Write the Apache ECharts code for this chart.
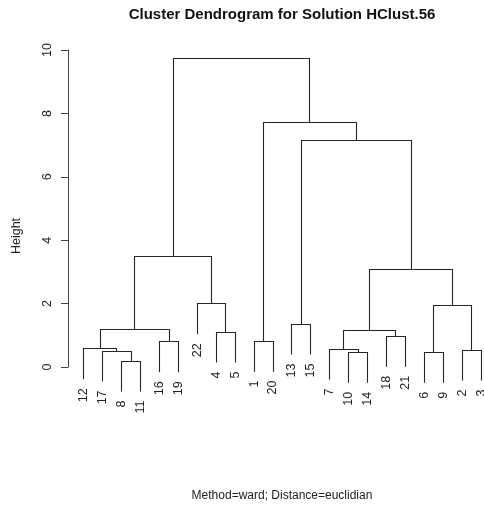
<!DOCTYPE html>
<html>
<head>
<meta charset="utf-8">
<script src="https://cdn.jsdelivr.net/npm/echarts@6/dist/echarts.min.js"></script>
<style>html,body{margin:0;padding:0;background:#fff}#c{width:484px;height:508px}</style>
</head>
<body>
<div id="c"></div>
<script>
// Leaf labels in plotting order
const leafOrder = ['12','17','8','11','16','19','22','4','5','1','20','13','15','7','10','14','18','21','6','9','2','3'];
// Merges: '#k' refers to merge k (1-based), otherwise a leaf label
const mergeLeft  = ['8','10','6','2','17','12','7','16','1','18','4','#6','#7','13','#3','22','#13','#12','#14','#9','#18'];
const mergeRight = ['11','14','9','3','#1','#5','#2','19','20','21','5','#8','#10','15','#4','#11','#15','#16','#17','#19','#20'];
const mergeHeight = [0.18,0.46,0.46,0.53,0.50,0.57,0.56,0.79,0.81,0.96,1.10,1.18,1.16,1.35,1.95,1.99,3.08,3.50,7.15,7.72,9.74];
const yTicks = [0,2,4,6,8,10];

const hang = 0.1 * (Math.max(...mergeHeight) - Math.min(...mergeHeight));
const nLeaf = leafOrder.length;
const xPad = 0.04 * (nLeaf - 1);

const mergeX = [];
function nodeX(ref) {
  if (ref[0] === '#') return mergeX[parseInt(ref.slice(1)) - 1];
  return leafOrder.indexOf(ref) + 1;
}
function nodeY(ref, parentH) {
  if (ref[0] === '#') return mergeHeight[parseInt(ref.slice(1)) - 1];
  return parentH - hang;
}
mergeHeight.forEach((h, i) => {
  mergeX.push((nodeX(mergeLeft[i]) + nodeX(mergeRight[i])) / 2);
});
const leafBottom = {};
mergeHeight.forEach((h, i) => {
  [mergeLeft[i], mergeRight[i]].forEach(r => { if (r[0] !== '#') leafBottom[r] = h - hang; });
});

const lineColor = '#262626';
const font = '"Liberation Sans", Arial, sans-serif';
const snap = v => Math.round(v - 0.5) + 0.5;

const chart = echarts.init(document.getElementById('c'), null, {renderer: 'canvas'});
chart.setOption({
  animation: false,
  backgroundColor: '#fff',
  grid: {left: 68, top: 50, width: 429, height: 317, containLabel: false, outerBoundsMode: 'none'},
  xAxis: {type: 'value', min: 1 - xPad, max: nLeaf + xPad, show: false},
  yAxis: {
    type: 'value', min: yTicks[0], max: yTicks[yTicks.length - 1], interval: 2,
    axisLine: {show: true, lineStyle: {color: '#444', width: 1}},
    axisTick: {show: true, length: 7, lineStyle: {color: '#444'}},
    axisLabel: {rotate: 90, margin: 14, fontSize: 12.5, color: '#222', fontFamily: font},
    splitLine: {show: false}
  },
  graphic: [
    {type: 'text', x: 282, y: 15, style: {text: 'Cluster Dendrogram for Solution HClust.56', font: 'bold 15px ' + font, fill: '#111', align: 'center', verticalAlign: 'middle'}},
    {type: 'text', x: 282, y: 496, style: {text: 'Method=ward; Distance=euclidian', font: '12px ' + font, fill: '#222', align: 'center', verticalAlign: 'middle'}},
    {type: 'text', x: 17, y: 236, rotation: Math.PI / 2, style: {text: 'Height', font: '12.5px ' + font, fill: '#222', align: 'center', verticalAlign: 'middle'}}
  ],
  series: [
    {
      type: 'custom',
      clip: false,
      data: mergeHeight.map((h, i) => [i]),
      renderItem: function (params, api) {
        const i = api.value(0);
        const h = mergeHeight[i];
        const lx = nodeX(mergeLeft[i]), rx = nodeX(mergeRight[i]);
        const ly = nodeY(mergeLeft[i], h), ry = nodeY(mergeRight[i], h);
        const p1 = api.coord([lx, ly]), p2 = api.coord([lx, h]), p3 = api.coord([rx, h]), p4 = api.coord([rx, ry]);
        return {
          type: 'polyline',
          shape: {points: [[snap(p1[0]), p1[1]], [snap(p2[0]), snap(p2[1])], [snap(p3[0]), snap(p3[1])], [snap(p4[0]), p4[1]]]},
          style: {stroke: lineColor, lineWidth: 1.1, fill: null}
        };
      }
    },
    {
      type: 'custom',
      clip: false,
      data: leafOrder.map((l, i) => [i + 1, leafBottom[l]]),
      renderItem: function (params, api) {
        const p = api.coord([api.value(0), api.value(1)]);
        return {
          type: 'text',
          x: p[0], y: p[1] + 9,
          rotation: Math.PI / 2,
          style: {text: leafOrder[params.dataIndex], font: '12.5px ' + font, fill: '#222', align: 'right', verticalAlign: 'middle'}
        };
      }
    }
  ]
});
</script>
</body>
</html>
